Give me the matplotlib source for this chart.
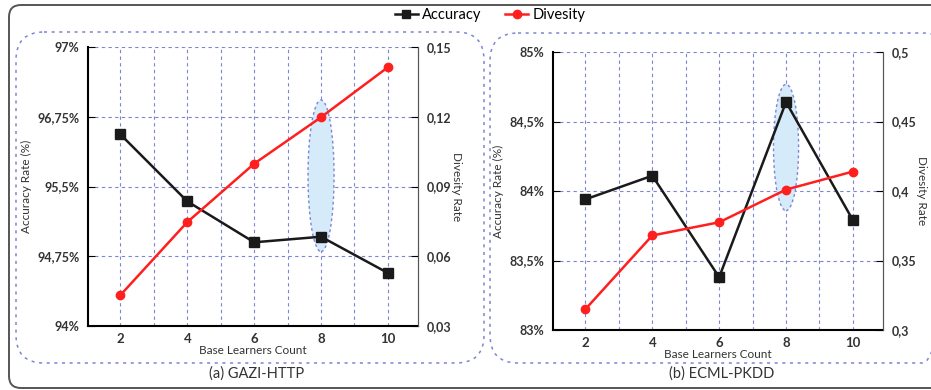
import matplotlib
matplotlib.use("Agg")
import matplotlib.pyplot as plt
from matplotlib.patches import Ellipse, FancyBboxPatch
from matplotlib.lines import Line2D

W, H = 931, 390

learners = [2, 4, 6, 8, 10]

gazi_acc = [96.06, 95.34, 94.90, 94.96, 94.57]
gazi_div = [0.0433, 0.0747, 0.0998, 0.1198, 0.1413]
gazi_acc_ticks = [94, 94.75, 95.5, 96.25, 97]
gazi_acc_labels = ["94%", "94,75%", "95,5%", "96,75%", "97%"]
gazi_div_ticks = [0.03, 0.06, 0.09, 0.12, 0.15]
gazi_div_labels = ["0,03", "0,06", "0,09", "0,12", "0,15"]

ecml_acc = [83.94, 84.11, 83.38, 84.64, 83.79]
ecml_div = [0.315, 0.368, 0.3775, 0.401, 0.414]
ecml_acc_ticks = [83, 83.5, 84, 84.5, 85]
ecml_acc_labels = ["83%", "83,5%", "84%", "84,5%", "85%"]
ecml_div_ticks = [0.3, 0.35, 0.4, 0.45, 0.5]
ecml_div_labels = ["0,3", "0,35", "0,4", "0,45", "0,5"]

GRID = "#7d84d6"
RED = "#ff1f1f"
BLACK = "#1a1a1a"
FONT = ["Lato", "DejaVu Sans"]

plt.rcParams["font.family"] = FONT

fig = plt.figure(figsize=(W / 100, H / 100), dpi=100)

# overlay in pixel coords for frames
bg = fig.add_axes([0, 0, 1, 1])
bg.set_xlim(0, W)
bg.set_ylim(H, 0)
bg.axis("off")
bg.add_patch(FancyBboxPatch((9, 5), 940, 383, boxstyle="round,pad=0,rounding_size=12",
                            fc="none", ec="#555555", lw=1.4))
bg.add_patch(FancyBboxPatch((16, 32), 468, 331, boxstyle="round,pad=0,rounding_size=28",
                            fc="none", ec=GRID, lw=1.1, ls=(0, (2, 3))))
bg.add_patch(FancyBboxPatch((490, 33), 460, 330, boxstyle="round,pad=0,rounding_size=28",
                            fc="none", ec=GRID, lw=1.1, ls=(0, (2, 3))))


def panel(rect, acc, div, acc_ticks, acc_labels, div_ticks, div_labels, ell, caption, cap_x):
    ax = fig.add_axes([rect[0] / W, 1 - rect[3] / H, (rect[2] - rect[0]) / W, (rect[3] - rect[1]) / H])
    ax.set_facecolor("none")
    ax.set_xlim(1.03, 10.9)
    ax.set_ylim(acc_ticks[0], acc_ticks[-1])
    # draw vertical grid at every integer position
    for gx in range(2, 11):
        ax.axvline(gx, color=GRID, ls=(0, (3, 3)), lw=0.8, zorder=1)
    ax.set_xticks(learners)
    ax.set_yticks(acc_ticks)
    ax.set_yticklabels(acc_labels)
    ax.grid(True, which="major", axis="y", color=GRID, ls=(0, (3, 3)), lw=0.8)
    ax.tick_params(axis="x", which="both", length=0, labelsize=9.5, pad=5)
    ax.tick_params(axis="y", direction="in", length=5, labelsize=9, pad=6)
    for lab in ax.get_yticklabels() + ax.get_xticklabels():
        lab.set_fontweight("bold")
        lab.set_color("#333333")
    ax.spines["top"].set_visible(False)
    ax.spines["left"].set_linewidth(1.5)
    ax.spines["bottom"].set_linewidth(1.5)
    ax.spines["right"].set_color("#555555")
    ax.set_xlabel("Base Learners Count", fontsize=8.5, labelpad=0, color="#333333")
    ax.set_ylabel("Accuracy Rate (%)", fontsize=8.5, labelpad=4, color="#333333")
    ax.add_patch(Ellipse(ell[:2], ell[2], ell[3], fc="#d5ebfa", ec=GRID, lw=1.0,
                         ls=(0, (2, 2)), zorder=2))
    ax.plot(learners, acc, color=BLACK, lw=1.8, marker="s", ms=6.5, zorder=4)

    ax2 = ax.twinx()
    ax2.set_ylim(div_ticks[0], div_ticks[-1])
    ax2.set_yticks(div_ticks)
    ax2.set_yticklabels(div_labels)
    ax2.tick_params(axis="y", direction="in", length=5, labelsize=9, pad=6)
    for lab in ax2.get_yticklabels():
        lab.set_fontweight("bold")
        lab.set_color("#333333")
    ax2.spines["top"].set_visible(False)
    ax2.spines["left"].set_visible(False)
    ax2.spines["bottom"].set_visible(False)
    ax2.spines["right"].set_color("#555555")
    ax2.set_ylabel("Divesity Rate", fontsize=8.5, rotation=270, labelpad=8, color="#333333")
    ax2.plot(learners, div, color=RED, lw=1.8, marker="o", ms=6, zorder=4)

    fig.text(cap_x / W, 1 - 374 / H, caption, ha="center", va="center", fontsize=10.5, color="#333333")
    return ax


panel((88, 47, 418, 326), gazi_acc, gazi_div, gazi_acc_ticks, gazi_acc_labels,
      gazi_div_ticks, gazi_div_labels, (8, 95.615, 0.78, 1.63), "(a) GAZI-HTTP", 257)
panel((553, 52, 883, 330), ecml_acc, ecml_div, ecml_acc_ticks, ecml_acc_labels,
      ecml_div_ticks, ecml_div_labels, (8, 84.313, 0.75, 0.909), "(b) ECML-PKDD", 722)

handles = [
    Line2D([], [], color=BLACK, lw=1.8, marker="s", ms=6),
    Line2D([], [], color=RED, lw=1.8, marker="o", ms=6),
]
fig.legend(handles, ["Accuracy", "Divesity"], loc="center", bbox_to_anchor=(490 / W, 1 - 15 / H),
           ncol=2, frameon=False, fontsize=10.5, handlelength=1.6, handletextpad=0.3,
           columnspacing=1.6)

fig.savefig("out.png", dpi=100)
